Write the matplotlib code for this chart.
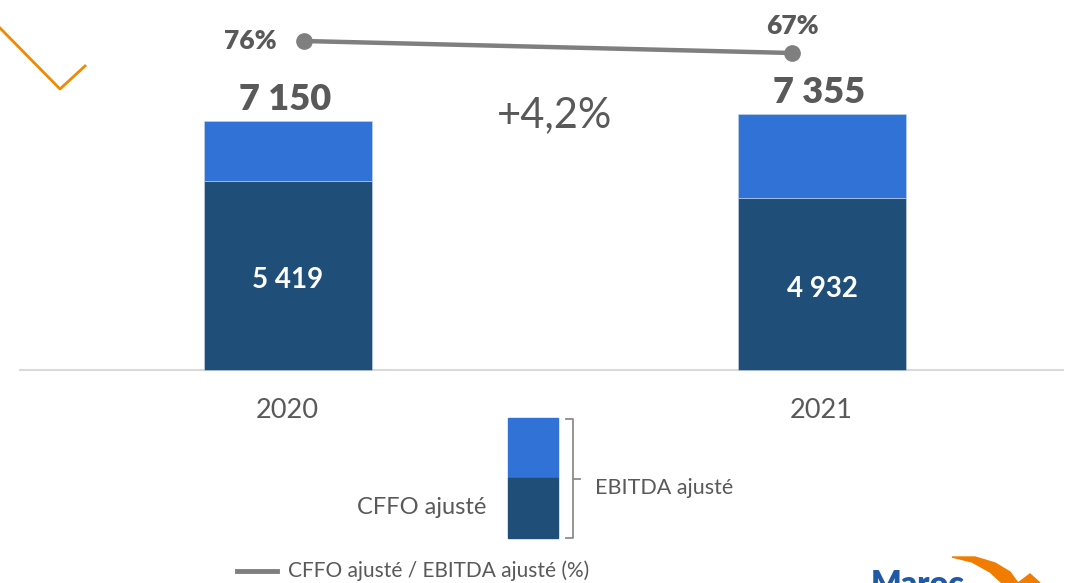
import matplotlib
matplotlib.use('Agg')
import matplotlib.pyplot as plt
from matplotlib.patches import Polygon, Rectangle
from matplotlib.lines import Line2D

# Données
annees = ['2020', '2021']
cffo = [5419, 4932]
ebitda = [7150, 7355]
ratio = [76, 67]
variation = '+4,2%'

c_fonce = '#1f4e79'
c_clair = '#3172d6'
c_gris = '#595959'
c_ligne = '#7f7f7f'

plt.rcParams['font.family'] = ['Lato', 'DejaVu Sans']

W, H = 1074, 583
fig = plt.figure(figsize=(W / 100, H / 100), dpi=100)
ax = fig.add_axes([0, 0, 1, 1])

x = list(range(len(annees)))
px_per_unit = 534.0          # pixels entre les deux barres
base_px = 370.0              # ligne de base (pixels depuis le haut)
k = 0.03485                  # pixels par unité de valeur
ax.set_xlim(-288 / px_per_unit, (W - 288) / px_per_unit)
ax.set_ylim(-(H - base_px) / k, base_px / k)
ax.axis('off')

largeur = 168 / px_per_unit
ax.bar(x, cffo, width=largeur, color=c_fonce, edgecolor='#c9d6e6', linewidth=0.4, zorder=3)
ax.bar(x, [e - c for e, c in zip(ebitda, cffo)], bottom=cffo, width=largeur,
       color=c_clair, edgecolor='#c9d6e6', linewidth=0.4, zorder=3)

# ligne de base
ax.plot([(20 - 288) / px_per_unit, (1063 - 288) / px_per_unit], [0, 0],
        color='#d9d9d9', lw=1.5, zorder=2)

def fmt(v):
    return '{:,}'.format(v).replace(',', ' ')

for i in x:
    ax.text(i, cffo[i] / 2 - 130, fmt(cffo[i]), ha='center', va='center',
            color='white', fontsize=20, fontweight='bold', zorder=4)
    ax.text(i - 0.005, ebitda[i] + 140, fmt(ebitda[i]), ha='center', va='bottom',
            color=c_gris, fontsize=26, fontweight='heavy')
    ax.text(i - 0.002, -1150, annees[i], ha='center', va='center',
            color=c_gris, fontsize=19.5, fontweight='normal')

ax.text(0.5, (base_px - 115) / k, variation, ha='center', va='center',
        color=c_gris, fontsize=30)

# ratio CFFO / EBITDA sur un axe secondaire
ax2 = ax.twinx()
ax2.set_position([0, 0, 1, 1])
ax2.set_xlim(ax.get_xlim())
ppp = 12 / 9.0
ax2.set_ylim(76 - (H - 41) / ppp, 76 + 41 / ppp)
ax2.axis('off')
ax2.plot([x[0] + 16 / px_per_unit, x[1] - 30 / px_per_unit], ratio, color=c_ligne,
         lw=3.2, marker='o', markersize=11, zorder=5)
ax2.text(x[0] - 38 / px_per_unit, ratio[0], f'{ratio[0]}%', ha='center', va='center',
         color=c_gris, fontsize=19, fontweight='heavy')
ax2.text(x[1] - 30 / px_per_unit, ratio[1] + 20, f'{ratio[1]}%', ha='center', va='center',
         color=c_gris, fontsize=19, fontweight='heavy')

# légende (en pixels)
lg = fig.add_axes([0, 0, 1, 1])
lg.set_xlim(0, W)
lg.set_ylim(H, 0)
lg.axis('off')
lg.add_patch(Rectangle((508, 418), 50, 60, color=c_clair))
lg.add_patch(Rectangle((508, 478), 50, 60, color=c_fonce))
lg.plot([566, 573, 573, 566], [419, 419, 538, 538], color='#8c8c8c', lw=1.3)
lg.plot([573, 580], [479, 479], color='#8c8c8c', lw=1.3)
lg.text(595, 488, 'EBITDA ajusté', ha='left', va='center', color=c_gris, fontsize=15.5)
lg.text(357, 508, 'CFFO ajusté', ha='left', va='center', color=c_gris, fontsize=17)
lg.add_line(Line2D([237, 277], [571, 571], color=c_ligne, lw=3.5))
lg.text(288, 571, 'CFFO ajusté / EBITDA ajusté (%)', ha='left', va='center',
        color=c_gris, fontsize=15)

# décor : trait orange en haut à gauche
lg.plot([0, 60, 85], [28, 89, 66], color='#f08a00', lw=2)

# logo (partiel) en bas à droite
lg.text(871, 570, 'Maroc', ha='left', va='top', color='#1f5aa6',
        fontsize=23, fontweight='heavy', clip_on=True)
lg.add_patch(Polygon([[952, 557], [975, 557], [995, 563], [1010, 572], [1018, 583],
                      [1002, 583], [990, 572], [972, 562]], closed=True, color='#f07d00'))
lg.add_patch(Polygon([[1018, 583], [1030, 574], [1040, 583]], closed=True, color='#f07d00'))

fig.savefig('out.png', dpi=100)
